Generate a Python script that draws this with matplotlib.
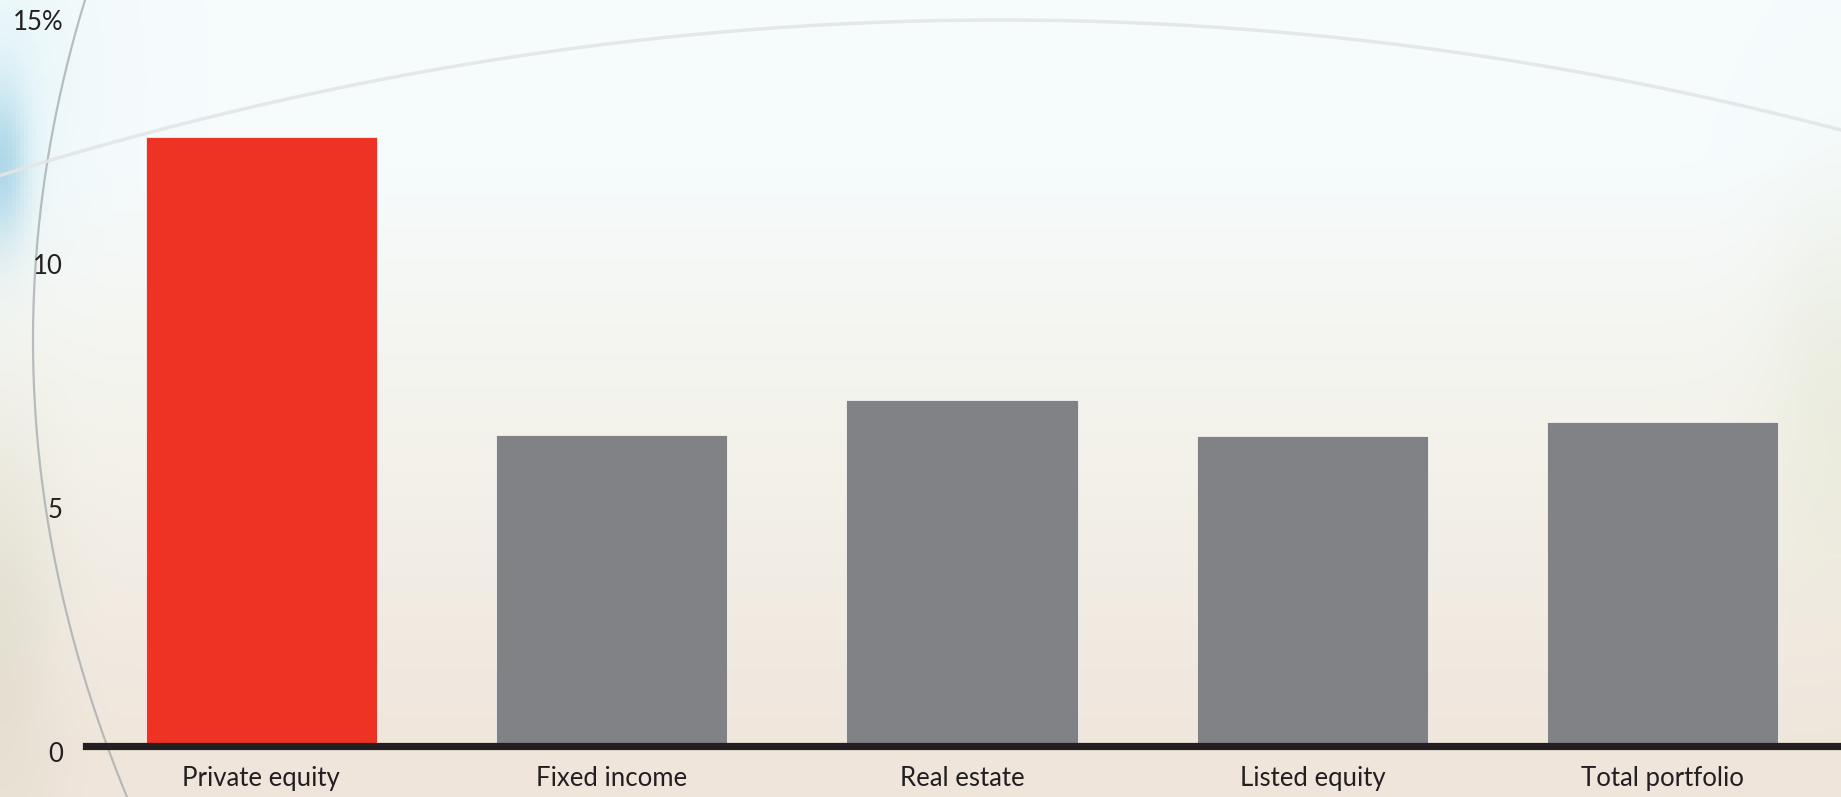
import numpy as np
import matplotlib.pyplot as plt
from matplotlib.transforms import ScaledTranslation

plt.rcParams['font.family'] = ['Lato', 'DejaVu Sans']

categories = ['Private equity', 'Fixed income', 'Real estate', 'Listed equity', 'Total portfolio']
values = [12.42, 6.32, 7.02, 6.30, 6.57]
bar_colors = ['#ee3224', '#818286', '#818286', '#818286', '#818286']
yticks = [0, 5, 10, 15]
ytick_labels = ['0', '5', '10', '15%']

W, H = 1841, 797
fig = plt.figure(figsize=(W / 100, H / 100), dpi=100)

# soft backdrop: pale blue-white top fading into warm beige (pixel coords, y down)
bg = fig.add_axes([0, 0, 1, 1], zorder=-10)
h, w = 200, 460
yy, xx = np.mgrid[0:1:h * 1j, 0:1:w * 1j]
top = np.array([0.965, 0.985, 0.99])
mid = np.array([0.955, 0.95, 0.92])
bottom = np.array([0.94, 0.90, 0.86])
t1 = np.clip((yy - 0.2) / 0.35, 0, 1)[..., None]
t2 = np.clip((yy - 0.55) / 0.4, 0, 1)[..., None]
img = top * (1 - t1) + mid * t1
img = img * (1 - t2) + bottom * t2
blue = np.exp(-((xx / 0.014) ** 2 + ((yy - 0.2) / 0.1) ** 2))[..., None]
img = img * (1 - 0.6 * blue) + np.array([0.45, 0.72, 0.85]) * 0.6 * blue
cyan = np.exp(-((xx / 0.05) ** 2 + ((yy - 0.1) / 0.2) ** 2))[..., None]
img = img * (1 - 0.3 * cyan) + np.array([0.8, 0.93, 0.95]) * 0.3 * cyan
green = np.exp(-(((1 - xx) / 0.04) ** 2 + ((yy - 0.5) / 0.25) ** 2))[..., None]
img = img * (1 - 0.3 * green) + np.array([0.85, 0.87, 0.76]) * 0.3 * green
sage = np.exp(-((xx / 0.03) ** 2 + ((yy - 0.8) / 0.25) ** 2))[..., None]
img = img * (1 - 0.4 * sage) + np.array([0.82, 0.82, 0.74]) * 0.4 * sage
bg.imshow(img, extent=[0, W, H, 0], aspect='auto')
py = np.linspace(0, H, 300)
bg.plot(33 + 0.00045 * (py - 340) ** 2, py, color='#a3aaae', lw=1.6, alpha=0.75)
px = np.linspace(0, W, 400)
bg.plot(px, 20 + 1.555e-4 * (px - 1000) ** 2, color='#e2e6e6', lw=2.5, alpha=0.9)
bg.set_xlim(0, W)
bg.set_ylim(H, 0)
bg.axis('off')

ax = fig.add_axes([86 / W, 54 / H, (1838 - 86) / W, (743 - 11) / H])
ax.patch.set_alpha(0)
x = np.arange(len(categories))
ax.bar(x, values, width=0.66, color=bar_colors, edgecolor='#f2f2f2', linewidth=0.6, zorder=2)
ax.set_xlim(-0.5, len(categories) - 0.5)
ax.set_ylim(0, 15)

for side in ['top', 'right', 'left']:
    ax.spines[side].set_visible(False)
ax.spines['bottom'].set_color('#231f20')
ax.spines['bottom'].set_linewidth(5.2)
ax.spines['bottom'].set_position(('outward', 2.5))
ax.spines['bottom'].set_zorder(3)

ax.set_yticks(yticks)
ax.set_yticklabels(ytick_labels)
ax.set_xticks(x)
ax.set_xticklabels(categories)
ax.tick_params(axis='both', length=0, labelsize=18.5, colors='#231f20')
ax.tick_params(axis='y', pad=16.5)
ax.tick_params(axis='x', pad=14)
for lab in ax.get_yticklabels():
    lab.set_transform(lab.get_transform() + ScaledTranslation(0, -0.09, fig.dpi_scale_trans))

fig.savefig('out.png', dpi=100)
